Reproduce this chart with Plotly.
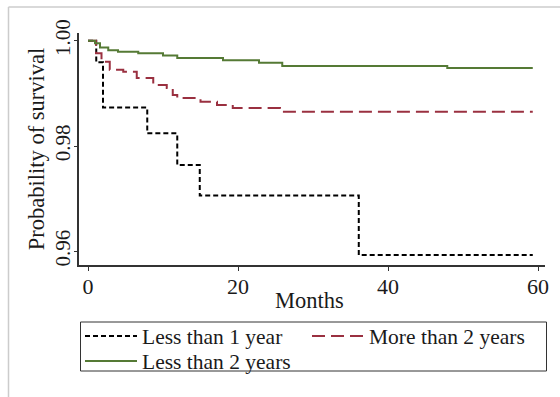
import plotly.graph_objects as go

# Kaplan-Meier step data (months, survival probability)
black_t = [0, 1.1, 2.0, 7.9, 11.9, 14.9, 36.1, 59.3]
black_s = [1.0, 0.9959, 0.9873, 0.9824, 0.9764, 0.9706, 0.9593, 0.9593]

red_t = [0, 1.07, 1.8, 2.9, 4.7, 6.5, 8.7, 10.5, 11.3, 11.9, 15.0, 17.2, 19.3, 25.6, 59.3]
red_s = [1.0, 0.9976, 0.9960, 0.9945, 0.9941, 0.9929, 0.9916, 0.9910, 0.9897, 0.9891,
         0.9884, 0.9878, 0.9872, 0.9865, 0.9865]

green_t = [0, 0.93, 1.6, 2.7, 4.0, 6.7, 10.0, 11.9, 18.0, 22.8, 25.9, 47.9, 59.3]
green_s = [1.0, 0.9995, 0.9987, 0.9982, 0.9979, 0.9976, 0.9972, 0.9967, 0.9963, 0.9958,
           0.9952, 0.9948, 0.9948]

x_ticks = [0, 20, 40, 60]
y_ticks = [0.96, 0.98, 1.00]

FONT = "Liberation Serif"
W, H = 560, 397
ML, MR, MT, MB = 79, 15, 33, 132

pw = W - ML - MR
ph = H - MT - MB
def px2paper_x(p):
    return (p - ML) / pw
def px2paper_y(p):
    return (H - MB - p) / ph

fig = go.Figure()
fig.add_trace(go.Scatter(x=black_t, y=black_s, mode="lines", line_shape="hv",
                         name="Less than 1 year", legend="legend",
                         line=dict(color="black", width=2, dash="5px,3px")))
fig.add_trace(go.Scatter(x=red_t, y=red_s, mode="lines", line_shape="hv",
                         name="More than 2 years", legend="legend",
                         line=dict(color="#9a3040", width=2, dash="13px,6px")))
fig.add_trace(go.Scatter(x=green_t, y=green_s, mode="lines", line_shape="hv",
                         name="Less than 2 years", legend="legend2",
                         line=dict(color="#557a35", width=2)))

leg_common = dict(orientation="h", xanchor="left", yanchor="middle",
                  borderwidth=0, bgcolor="rgba(0,0,0,0)",
                  font=dict(family=FONT, size=21.5, color="#1a1a1a"),
                  entrywidth=160, itemwidth=52)

fig.update_layout(
    width=W, height=H,
    margin=dict(l=ML, r=MR, t=MT, b=MB),
    paper_bgcolor="white", plot_bgcolor="white",
    font=dict(family=FONT, size=21, color="#1a1a1a"),
    showlegend=True,
    legend=dict(x=px2paper_x(80), y=px2paper_y(336), **leg_common),
    legend2=dict(x=px2paper_x(80), y=px2paper_y(361), **leg_common),
    xaxis=dict(range=[-1.2, 60.93], tickvals=x_ticks, ticks="outside", ticklen=4,
               tickcolor="#333", showline=True, linecolor="#333", linewidth=1.5,
               showgrid=False, zeroline=False, ticklabelstandoff=-3,
               tickfont=dict(family=FONT, size=22)),
    yaxis=dict(range=[0.9574, 1.00146], tickvals=y_ticks, tickformat=".2f",
               ticks="outside", ticklen=3, tickangle=-90,
               tickcolor="#333", showline=True, linecolor="#333", linewidth=1.5,
               showgrid=False, zeroline=False, ticklabelstandoff=-4,
               tickfont=dict(family=FONT, size=21),
               title=dict(text="Probability of survival", font=dict(family=FONT, size=22.5),
                          standoff=0)),
    annotations=[
        dict(text="Months", xref="paper", yref="paper",
             x=px2paper_x(309), y=px2paper_y(300), xanchor="center", yanchor="middle",
             showarrow=False, font=dict(family=FONT, size=22.5, color="#1a1a1a")),
    ],
    shapes=[
        dict(type="line", xref="paper", yref="paper",
             x0=px2paper_x(8.5), x1=px2paper_x(8.5), y0=px2paper_y(7), y1=px2paper_y(400),
             line=dict(color="#cccccc", width=1.5)),
        dict(type="line", xref="paper", yref="paper",
             x0=px2paper_x(8.5), x1=px2paper_x(562), y0=px2paper_y(7), y1=px2paper_y(7),
             line=dict(color="#cccccc", width=1.5)),
        dict(type="rect", xref="paper", yref="paper",
             x0=px2paper_x(80.5), x1=px2paper_x(546.5), y0=px2paper_y(322), y1=px2paper_y(371),
             line=dict(color="#333333", width=1), fillcolor="rgba(0,0,0,0)"),
    ],
)

fig.write_html("out.html")
